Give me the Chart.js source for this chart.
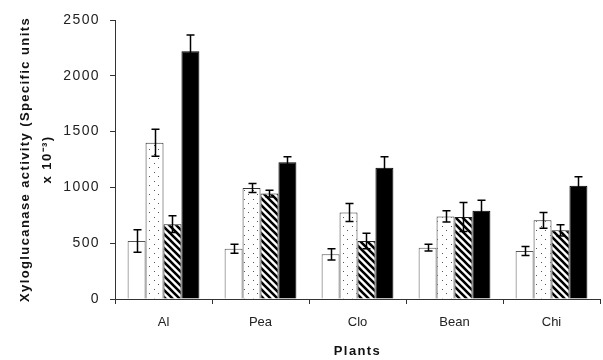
<!DOCTYPE html>
<html>
<head>
<meta charset="utf-8">
<script src="https://cdn.jsdelivr.net/npm/chart.js@4/dist/chart.umd.min.js"></script>
<style>
  html, body { margin: 0; padding: 0; background: #fff; }
</style>
</head>
<body>
<canvas id="myChart" width="603" height="360"></canvas>
<script>
// plants on the x axis
const plants = ['Al', 'Pea', 'Clo', 'Bean', 'Chi'];

// four treatments per plant (white, dotted, hatched, black)
const whiteVals   = [520, 450, 400, 460, 430];
const dottedVals  = [1400, 995, 775, 740, 705];
const hatchedVals = [670, 945, 520, 735, 615];
const blackVals   = [2220, 1225, 1175, 790, 1015];

// error bar half-heights
const whiteErr   = [100, 40, 50, 30, 40];
const dottedErr  = [120, 40, 80, 50, 70];
const hatchedErr = [75, 30, 70, 130, 50];
const blackErr   = [145, 50, 100, 95, 80];

const yTicks = [0, 500, 1000, 1500, 2000, 2500];

function dotPattern() {
    var s = 9;
    var c = document.createElement('canvas');
    c.width = s; c.height = s;
    var g = c.getContext('2d');
    g.fillStyle = '#fff';
    g.fillRect(0, 0, s, s);
    g.fillStyle = '#555';
    g.fillRect(1, 1, 1, 1);
    g.fillRect(5, 5, 1, 1);
    return g.createPattern(c, 'repeat');
}

function hatchPattern() {
    var s = 7;
    var c = document.createElement('canvas');
    c.width = s; c.height = s;
    var g = c.getContext('2d');
    g.fillStyle = '#fff';
    g.fillRect(0, 0, s, s);
    g.strokeStyle = '#000';
    g.lineWidth = 2.6;
    g.beginPath();
    g.moveTo(-s, 0); g.lineTo(s, 2 * s);
    g.moveTo(0, 0); g.lineTo(s, s);
    g.moveTo(0, -s); g.lineTo(2 * s, s);
    g.stroke();
    return g.createPattern(c, 'repeat');
}

const errors = [whiteErr, dottedErr, hatchedErr, blackErr];

// draws the +/- error bars, then drops the letter spacing for the x labels
const errorBars = {
    id: 'errorBars',
    beforeDraw(chart) { chart.ctx.letterSpacing = '1.4px'; },
    afterDatasetsDraw(chart) {
        const ctx = chart.ctx;
        const y = chart.scales.y;
        ctx.save();
        ctx.strokeStyle = '#000';
        ctx.lineWidth = 1.5;
        chart.data.datasets.forEach(function (ds, i) {
            const meta = chart.getDatasetMeta(i);
            meta.data.forEach(function (bar, j) {
                const v = ds.data[j], e = errors[i][j];
                const top = y.getPixelForValue(v + e);
                const bot = y.getPixelForValue(v - e);
                const x = Math.round(bar.x) + 0.5;
                ctx.beginPath();
                ctx.moveTo(x, top); ctx.lineTo(x, bot);
                ctx.moveTo(x - 4, top); ctx.lineTo(x + 4, top);
                ctx.moveTo(x - 4, bot); ctx.lineTo(x + 4, bot);
                ctx.stroke();
            });
        });
        ctx.restore();
        ctx.letterSpacing = '0px';
    }
};

const ctx = document.getElementById('myChart').getContext('2d');
new Chart(ctx, {
    type: 'bar',
    data: {
        labels: plants,
        datasets: [
            { label: 'white', data: whiteVals, backgroundColor: '#fff', borderColor: '#555', borderWidth: 1 },
            { label: 'dotted', data: dottedVals, backgroundColor: dotPattern(), borderColor: '#333', borderWidth: 1 },
            { label: 'hatched', data: hatchedVals, backgroundColor: hatchPattern(), borderColor: '#222', borderWidth: 1 },
            { label: 'black', data: blackVals, backgroundColor: '#000', borderColor: '#000', borderWidth: 1 }
        ]
    },
    options: {
        responsive: false,
        animation: false,
        devicePixelRatio: 1,
        layout: { padding: { top: 20, right: 3, left: 0, bottom: 0 } },
        plugins: {
            legend: { display: false },
            tooltip: { enabled: false }
        },
        datasets: {
            bar: { barPercentage: 1, categoryPercentage: 0.74 }
        },
        scales: {
            x: {
                offset: true,
                afterFit: function (scale) { scale.height = 61; },
                grid: { display: true, drawOnChartArea: false, offset: true, tickLength: 5, color: '#333' },
                border: { color: '#333', width: 1 },
                ticks: { z: 1, color: '#222', font: { family: 'Liberation Sans, Arial', size: 13 }, padding: 11 },
                title: {
                    display: true, text: 'Plants', color: '#111',
                    font: { family: 'Liberation Sans, Arial', size: 13, weight: 'bold' },
                    padding: { top: 0, bottom: 1 }
                }
            },
            y: {
                min: 0, max: 2500,
                afterFit: function (scale) { scale.width = 115; },
                afterBuildTicks: function (axis) { axis.ticks = yTicks.map(v => ({ value: v })); },
                grid: { display: true, drawOnChartArea: false, tickLength: 5, color: '#333' },
                border: { color: '#333', width: 1 },
                ticks: {
                    color: '#222', font: { family: 'Liberation Sans, Arial', size: 14 }, padding: 10,
                    callback: function (v) { return String(v); }
                },
                title: {
                    display: true,
                    text: ['Xyloglucanase activity (Specific units', 'x 10\u207B\u00B3)'],
                    color: '#111',
                    font: { family: 'Liberation Sans, Arial', size: 13, weight: 'bold', lineHeight: 1.7 },
                    padding: { top: 14, bottom: 0 }
                }
            }
        }
    },
    plugins: [errorBars]
});
</script>
</body>
</html>
